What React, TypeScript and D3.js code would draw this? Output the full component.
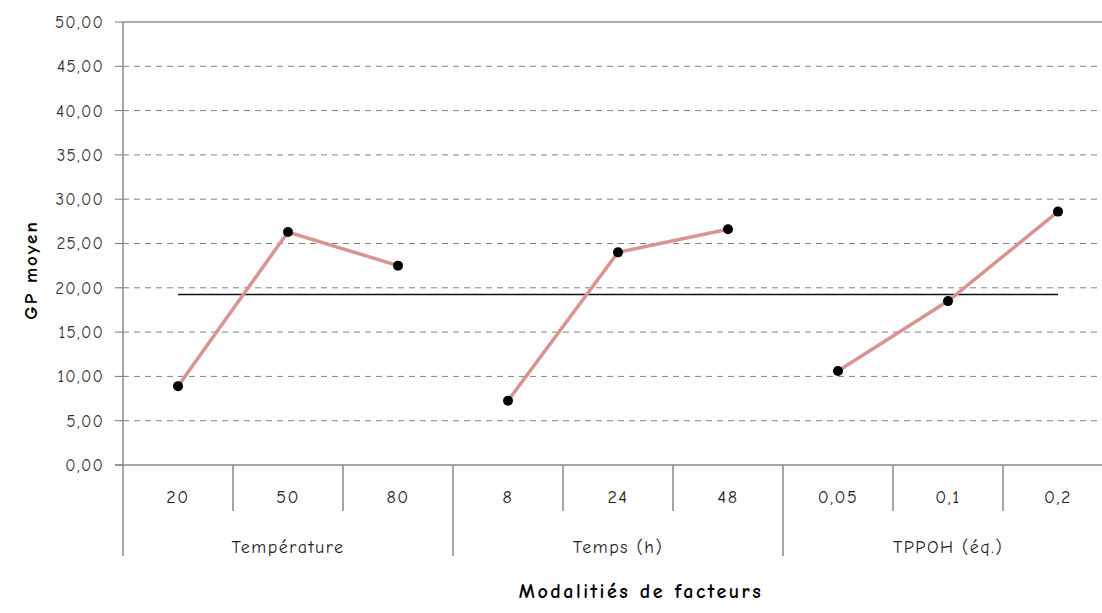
import React from "react";
import * as d3 from "d3";

const categories = ["20", "50", "80", "8", "24", "48", "0,05", "0,1", "0,2"];
const groups = ["Température", "Temps (h)", "TPPOH (éq.)"];
const groupOf = [0, 0, 0, 1, 1, 1, 2, 2, 2];
const values = [8.9, 26.3, 22.5, 7.25, 24.0, 26.6, 10.6, 18.5, 28.6];
const meanValue = 19.25;
const yTicks = [0, 5, 10, 15, 20, 25, 30, 35, 40, 45, 50];

const W = 1102;
const H = 613;
const left = 123;
const bandW = 110;
const top = 22;
const bottom = 465;
const font = "'Comic Sans MS', 'Comic Neue', 'DejaVu Sans', sans-serif";

export default function App() {
  const x = d3
    .scaleBand<number>()
    .domain(d3.range(categories.length))
    .range([left, left + bandW * categories.length])
    .padding(0);
  const y = d3.scaleLinear().domain([0, 50]).range([bottom, top]);
  const cx = (i: number) => (x(i) as number) + x.bandwidth() / 2;
  const line = d3
    .line<number>()
    .x((d) => cx(d))
    .y((d) => y(values[d]));

  const groupIdx = d3.range(groups.length);
  const lastX = left + bandW * categories.length;

  return (
    <svg
      width={W}
      height={H}
      style={{ position: "absolute", left: 0, top: 0, background: "#fff" }}
    >
      {/* gridlines */}
      {yTicks.map((t) => (
        <g key={t}>
          <line
            x1={115}
            x2={left}
            y1={y(t)}
            y2={y(t)}
            stroke="#777"
            strokeWidth={1}
          />
          {t !== 0 && (
            <line
              x1={left}
              x2={lastX}
              y1={y(t)}
              y2={y(t)}
              stroke={t === 50 ? "#aaa" : "#808080"}
              strokeWidth={t === 50 ? 2 : 1}
              strokeDasharray={t === 50 ? undefined : "6,5"}
            />
          )}
          <text
            x={104}
            y={y(t)}
            dy="0.35em"
            textAnchor="end"
            fontFamily={font}
            fontSize={17}
            letterSpacing={1.2}
            fill="#333"
          >
            {d3.format(".2f")(t).replace(".", ",")}
          </text>
        </g>
      ))}
      {/* x axis */}
      <line x1={115} x2={lastX} y1={bottom} y2={bottom} stroke="#888" strokeWidth={1.5} />
      <line x1={left} x2={left} y1={top} y2={556} stroke="#888" strokeWidth={1.5} />
      {categories.map((c, i) => (
        <g key={i}>
          {i > 0 && (
            <line
              x1={x(i) as number}
              x2={x(i) as number}
              y1={bottom}
              y2={groupOf[i] !== groupOf[i - 1] ? 556 : 511}
              stroke="#888"
              strokeWidth={1.5}
            />
          )}
          <text
            x={cx(i)}
            y={497}
            dy="0.35em"
            textAnchor="middle"
            fontFamily={font}
            fontSize={18}
            letterSpacing={1.5}
            fill="#222"
          >
            {c}
          </text>
        </g>
      ))}
      {groupIdx.map((g) => {
        const idx = categories.map((_, i) => i).filter((i) => groupOf[i] === g);
        const gx = (cx(idx[0]) + cx(idx[idx.length - 1])) / 2;
        return (
          <text
            key={g}
            x={gx}
            y={547}
            dy="0.35em"
            textAnchor="middle"
            fontFamily={font}
            fontSize={18}
            letterSpacing={1.5}
            fill="#222"
          >
            {groups[g]}
          </text>
        );
      })}
      {/* mean line */}
      <line
        x1={cx(0)}
        x2={cx(categories.length - 1)}
        y1={y(meanValue)}
        y2={y(meanValue)}
        stroke="#111"
        strokeWidth={1.5}
      />
      {/* series */}
      {groupIdx.map((g) => {
        const idx = categories.map((_, i) => i).filter((i) => groupOf[i] === g);
        return (
          <path
            key={g}
            d={line(idx) as string}
            fill="none"
            stroke="#d99391"
            strokeWidth={3.5}
          />
        );
      })}
      {values.map((v, i) => (
        <circle key={i} cx={cx(i)} cy={y(v)} r={5} fill="#000" />
      ))}
      {/* titles */}
      <text
        x={641}
        y={591}
        dy="0.35em"
        textAnchor="middle"
        fontFamily={font}
        fontSize={20}
        letterSpacing={2.5}
        fontWeight="bold"
        fill="#000"
      >
        Modalitiés de facteurs
      </text>
      <text
        transform={`translate(30,270) rotate(-90)`}
        dy="0.35em"
        textAnchor="middle"
        fontFamily={font}
        fontSize={19}
        letterSpacing={2}
        fontWeight="bold"
        fill="#000"
      >
        GP moyen
      </text>
    </svg>
  );
}
